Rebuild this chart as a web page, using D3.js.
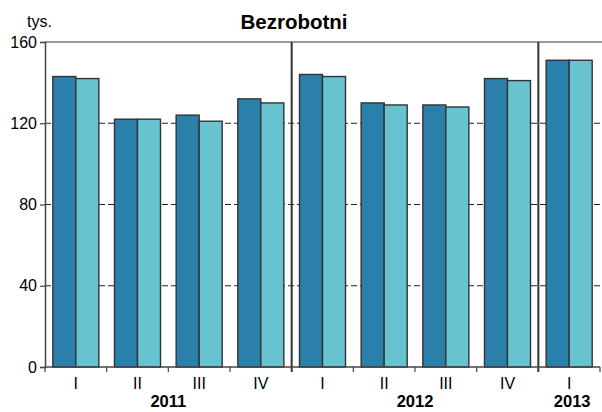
<!DOCTYPE html>
<html>
<head>
<meta charset="utf-8">
<script src="https://cdn.jsdelivr.net/npm/d3@7"></script>
<style>
  body { margin: 0; background: #fff; }
  svg { display: block; font-family: "Liberation Sans", Arial, sans-serif; }
</style>
</head>
<body>
<div id="chart"></div>
<script>
// quarters and their years
const quarters = ['I', 'II', 'III', 'IV', 'I', 'II', 'III', 'IV', 'I'];
const years = ['2011', '2011', '2011', '2011', '2012', '2012', '2012', '2012', '2013'];
const yearLabels = ['2011', '2012', '2013'];
// two series (thousands)
const seriesA = [143, 122, 124, 132, 144, 130, 129, 142, 151];
const seriesB = [142, 122, 121, 130, 143, 129, 128, 141, 151];
const yTicks = [0, 40, 80, 120, 160];
const colors = ['#2a80aa', '#66c3cf'];

const width = 602, height = 412;
const margin = {top: 42, right: 2, bottom: 45, left: 45};

const svg = d3.select('#chart')
    .append('svg')
    .attr('width', width)
    .attr('height', height);

const idx = quarters.map((d, i) => i);

const x = d3.scaleBand()
    .domain(idx)
    .range([margin.left, 600]);

const x1 = d3.scaleBand()
    .domain([0, 1])
    .range([0, x.bandwidth()])
    .paddingOuter(0.34)
    .paddingInner(0);

const y = d3.scaleLinear()
    .domain([0, 160])
    .range([height - margin.bottom, margin.top]);

// dashed gridlines
svg.append('g')
    .selectAll('line')
    .data(yTicks.filter(d => d > 0 && d < 160))
    .join('line')
    .attr('x1', margin.left)
    .attr('x2', width)
    .attr('y1', d => y(d))
    .attr('y2', d => y(d))
    .attr('stroke', '#222')
    .attr('stroke-width', 1)
    .attr('stroke-dasharray', '6,3');

// top border
svg.append('line')
    .attr('x1', margin.left)
    .attr('x2', width)
    .attr('y1', y(160))
    .attr('y2', y(160))
    .attr('stroke', '#777')
    .attr('stroke-width', 1.5);

// bars
const groups = svg.append('g')
    .selectAll('g')
    .data(idx)
    .join('g')
    .attr('transform', i => `translate(${x(i)},0)`);

groups.selectAll('rect')
    .data(i => [seriesA[i], seriesB[i]].map((v, k) => ({v, k})))
    .join('rect')
    .attr('x', d => x1(d.k))
    .attr('width', x1.bandwidth())
    .attr('y', d => y(d.v))
    .attr('height', d => y(0) - y(d.v))
    .attr('fill', d => colors[d.k])
    .attr('stroke', '#333')
    .attr('stroke-width', 1.4);

// year separators
const sepIdx = idx.filter(i => i > 0 && years[i] !== years[i - 1]);
svg.append('g')
    .selectAll('line')
    .data(sepIdx)
    .join('line')
    .attr('x1', i => x(i))
    .attr('x2', i => x(i))
    .attr('y1', y(160))
    .attr('y2', y(0) + 5)
    .attr('stroke', '#333')
    .attr('stroke-width', 2);

// y axis
const yAxis = svg.append('g')
    .attr('transform', `translate(${margin.left},0)`)
    .call(d3.axisLeft(y).tickValues(yTicks).tickSize(5).tickPadding(3));
yAxis.select('.domain').attr('stroke', '#444').attr('stroke-width', 1.5);
yAxis.selectAll('.tick line').attr('stroke', '#444').attr('stroke-width', 1.2);
yAxis.selectAll('text')
    .style('font-size', '16px')
    .attr('fill', '#000')
    .style('font-family', '"Liberation Sans", Arial, sans-serif');

// x axis: ticks at band boundaries
const xb = svg.append('g');
xb.append('line')
    .attr('x1', margin.left)
    .attr('x2', 600)
    .attr('y1', y(0))
    .attr('y2', y(0))
    .attr('stroke', '#444')
    .attr('stroke-width', 1.5);
xb.selectAll('line.tk')
    .data(idx.concat([idx.length]))
    .join('line')
    .attr('class', 'tk')
    .attr('x1', i => i < idx.length ? x(i) : 600)
    .attr('x2', i => i < idx.length ? x(i) : 600)
    .attr('y1', y(0))
    .attr('y2', y(0) + 5)
    .attr('stroke', '#444')
    .attr('stroke-width', 1.2);

xb.selectAll('text.q')
    .data(idx)
    .join('text')
    .attr('class', 'q')
    .attr('x', i => x(i) + x.bandwidth() / 2)
    .attr('y', 389)
    .attr('text-anchor', 'middle')
    .style('font-size', '16px')
    .text(i => quarters[i]);

xb.selectAll('text.yr')
    .data(yearLabels)
    .join('text')
    .attr('class', 'yr')
    .attr('x', yr => {
        const ii = idx.filter(i => years[i] === yr);
        return (x(ii[0]) + x(ii[ii.length - 1]) + x.bandwidth()) / 2 + (ii.length === 1 ? 3 : 0);
    })
    .attr('y', 407)
    .attr('text-anchor', 'middle')
    .style('font-size', '16.5px')
    .attr('font-weight', 'bold')
    .text(d => d);

// title and unit
svg.append('text')
    .attr('x', 294)
    .attr('y', 29)
    .attr('text-anchor', 'middle')
    .style('font-size', '20.5px')
    .attr('font-weight', 'bold')
    .text('Bezrobotni');

svg.append('text')
    .attr('x', 27)
    .attr('y', 27)
    .style('font-size', '16px')
    .text('tys.');
</script>
</body>
</html>
